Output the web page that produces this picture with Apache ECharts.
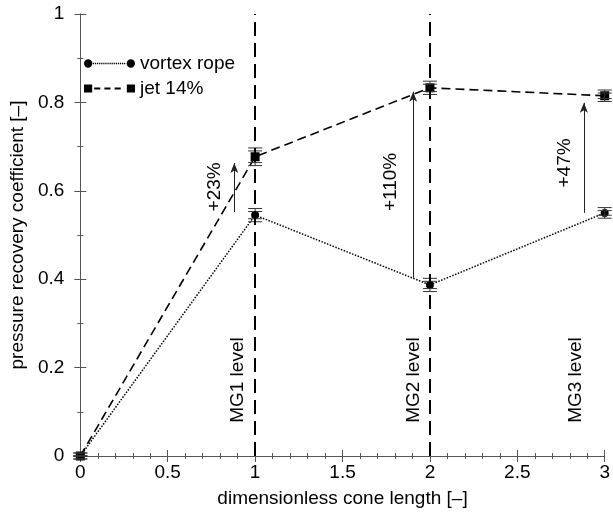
<!DOCTYPE html>
<html>
<head>
<meta charset="utf-8">
<script src="https://cdn.jsdelivr.net/npm/echarts@6/dist/echarts.min.js"></script>
<style>
  html, body { margin: 0; padding: 0; background: #fff; }
  #chart { width: 613px; height: 513px; }
</style>
</head>
<body>
<div id="chart"></div>
<script>
// data
const xPos = [0, 1, 2, 3]
const vortexRope = [0, 0.545, 0.387, 0.55]
const jet14 = [0, 0.677, 0.833, 0.815]
const vortexErr = [0, 0.015, 0.015, 0.012]
const jetErr = [0, 0.02, 0.015, 0.013]

const levelLines = [1, 2]
const levelLabels = ['MG1 level', 'MG2 level', 'MG3 level']
const levelLabelX = [0.898, 1.91, 2.836]
const levelLabelY = 0.075

const gainLabels = ['+23%', '+110%', '+47%']
const gainLabelX = [0.768, 1.774, 2.774]
const gainLabelY = [0.609, 0.62, 0.663]
const arrowX = [0.881, 1.904, 2.881]
const arrowFrom = [0.552, 0.403, 0.55]
const arrowTo = [0.663, 0.824, 0.799]

const font = 'Liberation Sans, Arial, Helvetica, sans-serif'

function pairs(ys) {
  return xPos.map((x, i) => [x, ys[i]])
}

function errData(ys, es) {
  return xPos.map((x, i) => [x, ys[i] - es[i], ys[i] + es[i]])
}

function renderErr(params, api) {
  const x = api.value(0)
  const lo = api.coord([x, api.value(1)])
  const hi = api.coord([x, api.value(2)])
  const w = 7
  const style = { stroke: '#333', lineWidth: 1 }
  return {
    type: 'group',
    children: [
      { type: 'line', shape: { x1: lo[0], y1: lo[1], x2: hi[0], y2: hi[1] }, style: style },
      { type: 'line', shape: { x1: lo[0] - w, y1: lo[1], x2: lo[0] + w, y2: lo[1] }, style: style },
      { type: 'line', shape: { x1: lo[0] - w, y1: lo[1] - 3, x2: lo[0] + w, y2: lo[1] - 3 }, style: style },
      { type: 'line', shape: { x1: hi[0] - w, y1: hi[1], x2: hi[0] + w, y2: hi[1] }, style: style },
      { type: 'line', shape: { x1: hi[0] - w, y1: hi[1] + 3, x2: hi[0] + w, y2: hi[1] + 3 }, style: style }
    ]
  }
}

function renderText(params, api) {
  const p = api.coord([api.value(0), api.value(1)])
  return {
    type: 'text',
    x: p[0],
    y: p[1],
    rotation: Math.PI / 2,
    style: {
      text: api.value(2),
      fill: '#000',
      font: '19px ' + font,
      align: api.value(3),
      verticalAlign: 'middle'
    }
  }
}

// legend icons: markers at both ends like the original key
let dots = ''
for (let x = 9; x <= 40; x += 2) {
  dots += 'M' + x.toFixed(1) + ' 4.3h1.2v1.4h-1.2Z'
}
const vortexIcon = 'path://M0.5 5a4 4 0 1 0 8 0a4 4 0 1 0 -8 0Z' + dots + 'M41.5 5a4 4 0 1 0 8 0a4 4 0 1 0 -8 0Z'
const jetIcon = 'path://M0 1h8v8h-8Z M10 4.1h6v1.8h-6Z M20 4.1h6v1.8h-6Z M30 4.1h6v1.8h-6Z M42 1h8v8h-8Z'

const levelTexts = levelLabels.map((t, i) => [levelLabelX[i], levelLabelY, t, 'left'])
const gainTexts = gainLabels.map((t, i) => [gainLabelX[i], gainLabelY[i], t, 'center'])

const axisLine = { show: true, lineStyle: { color: '#555', width: 1 } }

const chart = echarts.init(document.getElementById('chart'))
chart.setOption({
  animation: false,
  backgroundColor: '#fff',
  grid: { left: 78, right: 2, top: 14, bottom: 57 },
  legend: {
    left: 79,
    top: 49,
    orient: 'vertical',
    itemWidth: 51,
    itemHeight: 10,
    itemGap: 6,
    textStyle: { fontFamily: font, fontSize: 19, color: '#000' },
    data: [
      { name: 'vortex rope', icon: vortexIcon },
      { name: 'jet 14%', icon: jetIcon }
    ]
  },
  xAxis: [
    {
      type: 'value',
      min: 0,
      max: 3,
      interval: 0.5,
      name: 'dimensionless cone length [–]',
      nameLocation: 'middle',
      nameGap: 33,
      nameTextStyle: { fontFamily: font, fontSize: 19, color: '#000' },
      axisLine: axisLine,
      axisTick: { inside: true, length: 6, lineStyle: { color: '#555' } },
      minorTick: { show: true, splitNumber: 5, length: 3, lineStyle: { color: '#555' } },
      axisLabel: { fontFamily: font, fontSize: 19, color: '#000', margin: 7 },
      splitLine: { show: false }
    },
    {
      type: 'value',
      position: 'top',
      min: 0,
      max: 3,
      interval: 0.5,
      axisLine: axisLine,
      axisTick: { inside: true, length: 6, lineStyle: { color: '#555' } },
      minorTick: { show: true, splitNumber: 5, length: 3, lineStyle: { color: '#555' } },
      axisLabel: { show: false },
      splitLine: { show: false }
    }
  ],
  yAxis: [
    {
      type: 'value',
      min: 0,
      max: 1,
      interval: 0.2,
      name: 'pressure recovery coefficient [–]',
      nameLocation: 'middle',
      nameGap: 50,
      nameTextStyle: { fontFamily: font, fontSize: 19, color: '#000' },
      axisLine: axisLine,
      axisTick: { inside: true, length: 6, lineStyle: { color: '#555' } },
      minorTick: { show: true, splitNumber: 2, length: 3, lineStyle: { color: '#555' } },
      axisLabel: {
        fontFamily: font,
        fontSize: 19,
        color: '#000',
        margin: 16,
        formatter: function(v) { return String(Math.round(v * 10) / 10) }
      },
      splitLine: { show: false }
    },
    {
      type: 'value',
      position: 'right',
      min: 0,
      max: 1,
      interval: 0.2,
      axisLine: axisLine,
      axisTick: { inside: true, length: 6, lineStyle: { color: '#555' } },
      minorTick: { show: true, splitNumber: 2, length: 3, lineStyle: { color: '#555' } },
      axisLabel: { show: false },
      splitLine: { show: false }
    }
  ],
  series: [
    {
      name: 'levels',
      type: 'line',
      data: [],
      markLine: {
        silent: true,
        symbol: ['none', 'none'],
        label: { show: false },
        lineStyle: { color: '#000', width: 2, type: [14, 7] },
        data: levelLines.map(x => ({ xAxis: x }))
      },
      z: 1
    },
    {
      name: 'arrows',
      type: 'line',
      data: [],
      markLine: {
        silent: true,
        symbol: ['none', 'arrow'],
        symbolSize: [6, 10],
        label: { show: false },
        lineStyle: { color: '#222', width: 1, type: 'solid' },
        data: arrowX.map((x, i) => [{ coord: [x, arrowFrom[i]] }, { coord: [x, arrowTo[i]] }])
      },
      z: 1
    },
    {
      name: 'vortex rope',
      type: 'line',
      data: pairs(vortexRope),
      symbol: 'circle',
      symbolSize: 8,
      color: '#000',
      lineStyle: { color: '#000', width: 1.5, type: [1.5, 1.5] },
      itemStyle: { color: '#000' },
      clip: false,
      z: 3
    },
    {
      name: 'jet 14%',
      type: 'line',
      data: pairs(jet14),
      symbol: 'rect',
      symbolSize: 9,
      color: '#000',
      lineStyle: { color: '#000', width: 1.6, type: [9, 5] },
      itemStyle: { color: '#000' },
      clip: false,
      z: 3
    },
    {
      name: 'vortex err',
      type: 'custom',
      renderItem: renderErr,
      data: errData(vortexRope, vortexErr),
      encode: { x: 0, y: [1, 2] },
      z: 4
    },
    {
      name: 'jet err',
      type: 'custom',
      renderItem: renderErr,
      data: errData(jet14, jetErr),
      encode: { x: 0, y: [1, 2] },
      z: 4
    },
    {
      name: 'level text',
      type: 'custom',
      renderItem: renderText,
      data: levelTexts,
      encode: { x: 0, y: 1 },
      z: 5
    },
    {
      name: 'gain text',
      type: 'custom',
      renderItem: renderText,
      data: gainTexts,
      encode: { x: 0, y: 1 },
      z: 5
    }
  ]
})
</script>
</body>
</html>
